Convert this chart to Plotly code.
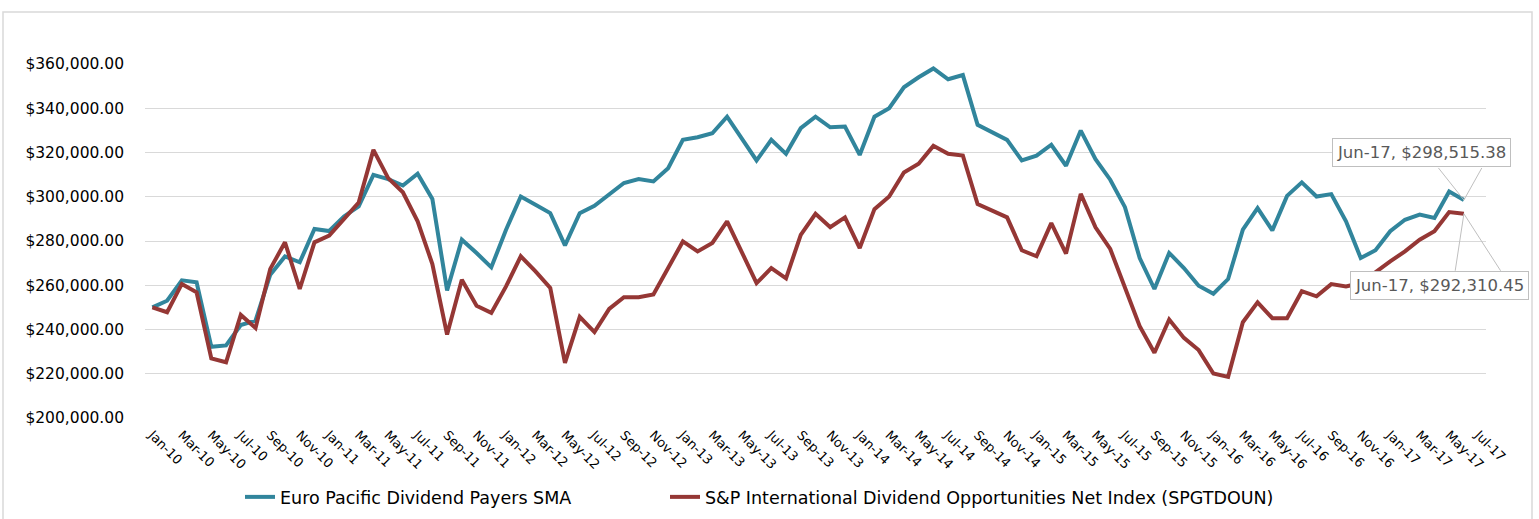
import plotly.graph_objects as go

months = []
names = ["Jan", "Feb", "Mar", "Apr", "May", "Jun", "Jul", "Aug", "Sep", "Oct", "Nov", "Dec"]
for yr in range(10, 18):
    for m in names:
        months.append(f"{m}-{yr}")
months = months[:91]  # Jan-10 .. Jul-17

euro_pacific = [
    250000, 253000, 262200, 261300, 232200, 232800, 242000, 244000, 264800, 273000,
    270400, 285400, 284500, 291100, 295600, 309900, 308000, 305100, 310400, 299000,
    257700, 280600, 274600, 268100, 285100, 300100, 296400, 292600, 278000, 292600,
    295900, 300900, 306200, 308000, 306900, 312900, 325700, 326900, 328700, 336200,
    326000, 316400, 325700, 319400, 331000, 336200, 331400, 331700, 318900, 336200,
    340000, 349500, 354000, 358000, 353100, 355000, 332500, 329000, 325700, 316400,
    318600, 323500, 314000, 329900, 317000, 307700, 295300, 272300, 258300, 274600,
    267800, 259800, 256200, 262800, 285100, 294900, 284800, 300400, 306500, 300100,
    301200, 288900, 272300, 275800, 284400, 289600, 291900, 290400, 302400, 298515.38,
]
sp_intl = [
    250000, 247800, 260600, 256800, 226900, 225200, 246600, 240700, 267400, 279400,
    258300, 279400, 282400, 289600, 297400, 321200, 308400, 302000, 288900, 269600,
    237700, 262500, 250700, 247500, 259500, 273100, 266300, 258800, 224900, 245700,
    238800, 249300, 254600, 254600, 255800, 267800, 279800, 275300, 279100, 288900,
    274900, 261000, 267700, 263100, 282800, 292300, 286200, 290700, 276800, 294400,
    300100, 311000, 314900, 323000, 319400, 318600, 296700, 293700, 290700, 275800,
    273100, 288100, 274300, 301300, 286200, 276400, 259500, 241500, 229500, 244500,
    236200, 230700, 220100, 218600, 243300, 252300, 245100, 245100, 257300, 255000,
    260500, 259500, 261000, 266000, 270800, 275300, 280600, 284400, 293100, 292310.45,
]
series_names = [
    "Euro Pacific Dividend Payers SMA",
    "S&P International Dividend Opportunities Net Index (SPGTDOUN)",
]
colors = ["#31859C", "#953735"]
tick_labels = months[::2]

FONT = "'DejaVu Sans', sans-serif"

L, R, T, B = 145, 53, 64, 101
W, H = 1539, 519
pw = W - L - R
ph = H - T - B

def px_x(p):
    return (p - L) / pw

def px_y(p):
    return (H - B - p) / ph

fig = go.Figure()
legend_ids = ["legend", "legend2"]
for name, vals, col, lg in zip(series_names, [euro_pacific, sp_intl], colors, legend_ids):
    fig.add_trace(go.Scatter(
        x=months[:len(vals)], y=vals, name=name, mode="lines",
        line=dict(color=col, width=4), hoverinfo="x+y", legend=lg,
    ))

# force full category list (includes Jul-17 with no data)
fig.add_trace(go.Scatter(x=months, y=[None] * len(months), showlegend=False,
                         mode="lines", hoverinfo="skip"))

leg_common = dict(orientation="h", xanchor="left", y=px_y(497), yanchor="middle",
                  font=dict(size=17.5, color="#000000"), itemwidth=30,
                  bgcolor="rgba(0,0,0,0)")

fig.update_layout(
    width=W, height=H,
    margin=dict(l=L, r=R, t=T, b=B, autoexpand=False),
    paper_bgcolor="white", plot_bgcolor="white",
    font=dict(family=FONT, color="#000000"),
    showlegend=True,
    legend=dict(x=px_x(240), **leg_common),
    legend2=dict(x=px_x(665), **leg_common),
    xaxis=dict(
        type="category", categoryorder="array", categoryarray=months,
        range=[-0.5, len(months) - 0.5], automargin=False,
        tickmode="array", tickvals=tick_labels, ticktext=tick_labels,
        tickangle=45, tickfont=dict(size=13, color="#000000"),
        ticklabelstandoff=6,
        showgrid=False, showline=False, zeroline=False, ticks="",
    ),
    yaxis=dict(
        range=[200000, 360000], tickvals=[200000 + 20000 * k for k in range(9)],
        tickformat="$,.2f", tickfont=dict(size=15.5, color="#000000"),
        ticklabelstandoff=20,
        showgrid=True, gridcolor="#D9D9D9", gridwidth=1.3, automargin=False,
        zeroline=False, showline=False, ticks="", ticklen=0,
    ),
)

# outer chart border
fig.add_shape(type="rect", xref="paper", yref="paper",
              x0=px_x(3), x1=px_x(1532), y0=px_y(H + 5), y1=px_y(12),
              line=dict(color="#D9D9D9", width=1.5), fillcolor="rgba(0,0,0,0)", layer="below")

last = months[len(euro_pacific) - 1]
lab_font = dict(family=FONT, size=16.5, color="#595959")

def callout(yval, text, xshift, yshift, leaders):
    for ax, ay in leaders:
        fig.add_annotation(x=last, y=yval, xref="x", yref="y", text=" ",
                           font=dict(size=1), showarrow=True, arrowhead=0,
                           arrowwidth=1, arrowcolor="#BFBFBF", ax=ax, ay=ay,
                           standoff=0, startstandoff=0)
    fig.add_annotation(x=last, y=yval, xref="x", yref="y", text=text,
                       showarrow=False, xshift=xshift, yshift=yshift,
                       font=lab_font, bgcolor="white", bordercolor="#BFBFBF",
                       borderwidth=1, borderpad=4)

callout(euro_pacific[-1], "Jun-17, $298,515.38", -42, 48, [(-27, -34), (19, -34)])
callout(sp_intl[-1], "Jun-17, $292,310.45", -24, -72, [(-9, 59), (38, 59)])

fig.write_html("out.html", config={"displayModeBar": False},
               post_script="document.body.style.margin='0';document.body.style.overflow='hidden';")
